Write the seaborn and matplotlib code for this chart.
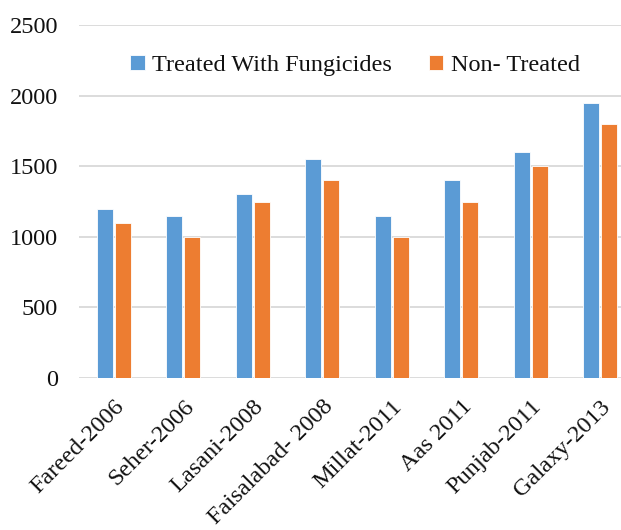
import pandas as pd
import matplotlib
matplotlib.use('Agg')
import matplotlib.pyplot as plt
import seaborn as sns

# data
varieties = ['Fareed-2006', 'Seher-2006', 'Lasani-2008', 'Faisalabad- 2008',
             'Millat-2011', 'Aas 2011', 'Punjab-2011', 'Galaxy-2013']
treated = [1200, 1150, 1300, 1550, 1150, 1400, 1600, 1950]
non_treated = [1100, 1000, 1250, 1400, 1000, 1250, 1500, 1800]
series = ['Treated With Fungicides', 'Non- Treated']
yticks = [0, 500, 1000, 1500, 2000, 2500]

df = pd.DataFrame({'Variety': varieties * 2,
                   'Yield': treated + non_treated,
                   'Group': [series[0]] * len(varieties) + [series[1]] * len(varieties)})

sns.set_theme(style='white')
plt.rcParams['font.family'] = ['Liberation Serif', 'DejaVu Serif']

f = plt.figure(figsize=(6.21, 5.30), dpi=100)
ax = f.add_axes([79 / 621, 152 / 530, 556 / 621, 353 / 530])

sns.barplot(data=df, x='Variety', y='Yield', hue='Group', ax=ax,
            palette=['#5B9BD5', '#ED7D31'], width=0.52, gap=0.1,
            edgecolor='white', linewidth=0.6, saturation=1)

ax.set_ylim(0, 2500)
ax.set_yticks(yticks)
ax.set_xlim(-0.5, len(varieties) - 0.5)
ax.yaxis.grid(True, color='#D9D9D9', linewidth=1.3)
ax.set_axisbelow(True)
for s in ax.spines.values():
    s.set_visible(False)
ax.set_xlabel('')
ax.set_ylabel('')
ax.tick_params(axis='y', length=0, pad=15, labelsize=17.5, labelcolor='#111111')
ax.tick_params(axis='x', length=0, pad=13, labelsize=17.5, labelcolor='#111111')
plt.setp(ax.get_xticklabels(), rotation=45, ha='right', rotation_mode='anchor')

ax.legend(loc='upper center', bbox_to_anchor=(355 / 621, 1 - 33 / 530),
          bbox_transform=f.transFigure, ncol=2, frameon=False, fontsize=17.5,
          handlelength=0.6, handleheight=0.6, handletextpad=0.3,
          columnspacing=1.5, title=None, labelcolor='#111111')

f.savefig('out.png', dpi=100)
